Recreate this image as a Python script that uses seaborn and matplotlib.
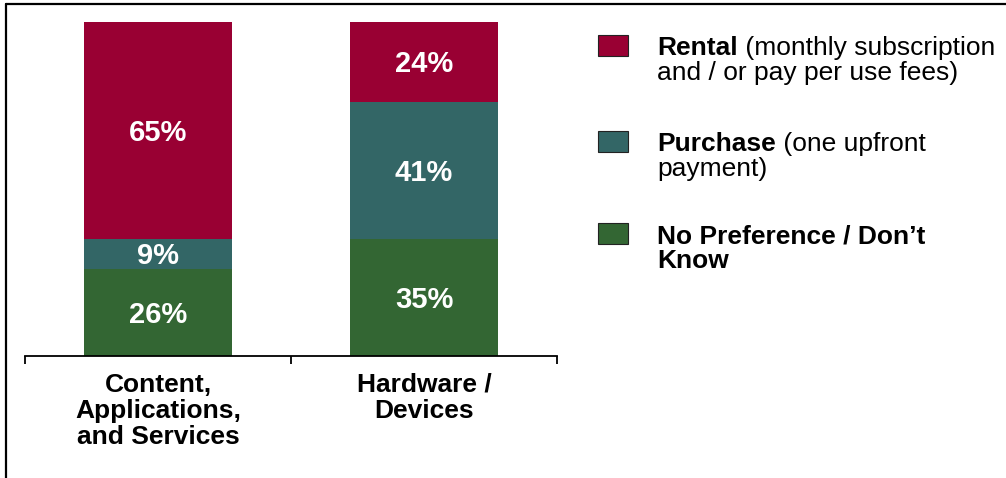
import matplotlib
matplotlib.use("Agg")
import matplotlib.pyplot as plt
from matplotlib.lines import Line2D
from matplotlib.patches import Rectangle
import numpy as np
import pandas as pd
import seaborn as sns

# Survey shares (percent) by product type
categories = ["Content,\nApplications,\nand Services", "Hardware /\nDevices"]
rental = [65, 24]
purchase = [9, 41]
no_pref = [26, 35]

series_names = ["Rental", "Purchase", "No Preference / Don\u2019t Know"]
series_notes = [" (monthly subscription\nand / or pay per use fees)",
                " (one upfront\npayment)", ""]
colors = ["#990033", "#336666", "#336633"]

sns.set_theme(style="white")
plt.rcParams["font.family"] = ["Liberation Sans", "DejaVu Sans"]
plt.rcParams["text.color"] = "black"
plt.rcParams["xtick.color"] = "black"

W, H = 1006, 478
fig = plt.figure(figsize=(W / 100, H / 100), dpi=100)
fig.patch.set_facecolor("white")

# axes box in pixel coordinates
ax_left, ax_right, ax_bottom, ax_top = 25, 557, 356, 22
ax = fig.add_axes([ax_left / W, (H - ax_bottom) / H,
                   (ax_right - ax_left) / W, (ax_bottom - ax_top) / H])

df = pd.DataFrame({"category": categories, "rental": rental,
                   "purchase": purchase, "no_pref": no_pref})
df["top_rental"] = df["no_pref"] + df["purchase"] + df["rental"]
df["top_purchase"] = df["no_pref"] + df["purchase"]

# stacked bars drawn as overlapping cumulative totals
for col, color in zip(["top_rental", "top_purchase", "no_pref"], colors):
    sns.barplot(data=df, x="category", y=col, color=color, width=0.56,
                saturation=1, ax=ax, linewidth=0, errorbar=None)

# white value labels centred on each segment
for i in range(len(categories)):
    base = 0
    for vals in (no_pref, purchase, rental):
        v = vals[i]
        ax.text(i, base + v / 2 - 0.6, f"{v}%", ha="center", va="center",
                color="white", fontsize=21, fontweight="bold")
        base += v

ax.set_xlim(-0.5, 1.5)
ax.set_ylim(0, 100)
ax.set_ylabel("")
ax.set_xlabel("")
ax.set_yticks([])
for s in ("left", "right", "top"):
    ax.spines[s].set_visible(False)
ax.spines["bottom"].set_linewidth(1.3)
ax.spines["bottom"].set_color("black")

ax.set_xticks([0, 1])
ax.set_xticklabels(categories, fontsize=19, fontweight="bold",
                   linespacing=1.12, color="black")
ax.set_xticks([-0.5, 0.5, 1.5], minor=True)
ax.tick_params(axis="x", which="major", length=0, pad=12)
ax.tick_params(axis="x", which="minor", length=5.5, width=1.3,
               color="black", direction="out", bottom=True)

# legend built from coloured keys and mixed-weight labels
key_tops = [35, 131, 223]
pitch = 25
fs = 19
for name, note, color, top in zip(series_names, series_notes, colors, key_tops):
    fig.patches.append(Rectangle((598 / W, (H - top - 21) / H), 30 / W, 21 / H,
                                 transform=fig.transFigure, facecolor=color,
                                 edgecolor="#222222", linewidth=0.8))
    first_note, _, rest = note.partition("\n")
    base_y = top + 20
    if name.startswith("No Preference"):
        fig.text(657 / W, (H - base_y) / H, "No Preference / Don\u2019t",
                 fontsize=fs, fontweight="bold", va="baseline")
        fig.text(657 / W, (H - base_y - pitch) / H, "Know",
                 fontsize=fs, fontweight="bold", va="baseline")
        continue
    t = fig.text(657 / W, (H - base_y) / H, name, fontsize=fs,
                 fontweight="bold", va="baseline")
    ax.annotate(first_note, xy=(1, 0), xycoords=t, fontsize=fs,
                va="bottom", ha="left", annotation_clip=False)
    if rest:
        fig.text(657 / W, (H - base_y - pitch) / H, rest, fontsize=fs,
                 va="baseline")

# outer frame on the left and top edges
fig.add_artist(Line2D([5.5 / W, 5.5 / W], [0, (H - 3.5) / H],
                      transform=fig.transFigure, color="black", linewidth=1.6))
fig.add_artist(Line2D([5.5 / W, 1], [(H - 3.5) / H, (H - 3.5) / H],
                      transform=fig.transFigure, color="black", linewidth=1.6))

fig.savefig("out.png", dpi=100, facecolor="white")
